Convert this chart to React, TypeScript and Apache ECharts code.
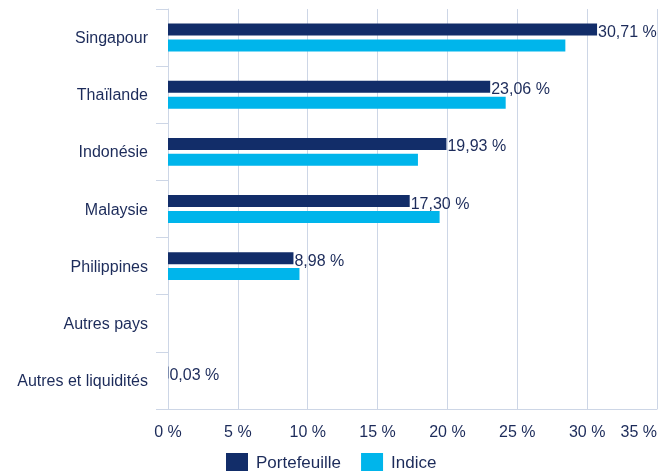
import React, { useEffect, useRef } from "react";
import * as echarts from "echarts";

const categories = [
  "Singapour",
  "Thaïlande",
  "Indonésie",
  "Malaysie",
  "Philippines",
  "Autres pays",
  "Autres et liquidités",
];
const portefeuille: (number | null)[] = [30.71, 23.06, 19.93, 17.3, 8.98, null, 0.03];
const indice: (number | null)[] = [28.44, 24.17, 17.89, 19.44, 9.41, null, null];
const seriesNames = ["Portefeuille", "Indice"];

const fmt = (v: number) => v.toFixed(2).replace(".", ",") + " %";

export default function App() {
  const ref = useRef<HTMLDivElement>(null);
  useEffect(() => {
    if (!ref.current) return;
    const chart = echarts.init(ref.current, null, { renderer: "svg" });
    const textColor = "#1c2b5a";
    const gridColor = "#cdd6e6";
    chart.setOption({
      animation: false,
      textStyle: { fontFamily: "Liberation Sans, Arial, sans-serif" },
      grid: { left: 168, right: 15, top: 9, bottom: 63, containLabel: false },
      legend: {
        bottom: 1,
        left: 226,
        padding: 0,
        itemWidth: 22,
        itemHeight: 18,
        itemGap: 20,
        icon: "rect",
        textStyle: { color: textColor, fontSize: 17, padding: [0, 0, 0, 3] },
        data: seriesNames,
      },
      xAxis: {
        type: "value",
        min: 0,
        max: 35,
        interval: 5,
        axisLine: { show: true, lineStyle: { color: gridColor } },
        axisTick: { show: false },
        splitLine: { show: true, lineStyle: { color: gridColor, width: 1 } },
        axisLabel: {
          color: textColor,
          fontSize: 16,
          margin: 14,
          alignMaxLabel: "right",
          formatter: (v: number) => v + " %",
        },
      },
      yAxis: {
        type: "category",
        inverse: true,
        data: categories,
        axisLine: { show: true, lineStyle: { color: gridColor } },
        axisTick: { show: true, length: 12, lineStyle: { color: gridColor } },
        axisLabel: { color: textColor, fontSize: 16, margin: 20, padding: [4, 0, 0, 0] },
      },
      series: [
        {
          name: seriesNames[0],
          type: "bar",
          data: portefeuille,
          barWidth: 12,
          barGap: "33%",
          itemStyle: { color: "#122d69" },
          label: {
            show: true,
            position: "right",
            distance: 1,
            offset: [0, 2],
            color: textColor,
            fontSize: 16,
            formatter: (p: any) => fmt(p.value),
          },
        },
        {
          name: seriesNames[1],
          type: "bar",
          data: indice,
          barWidth: 12,
          barGap: "33%",
          itemStyle: { color: "#00b5eb" },
        },
      ],
    });
    return () => chart.dispose();
  }, []);
  return (
    <div
      ref={ref}
      style={{ position: "fixed", top: 0, left: 0, width: 672, height: 472 }}
    />
  );
}
